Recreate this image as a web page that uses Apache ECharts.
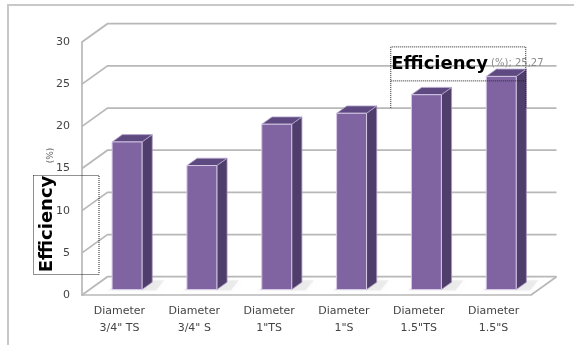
<!DOCTYPE html>
<html>
<head>
<meta charset="utf-8">
<script src="https://cdn.jsdelivr.net/npm/echarts@6/dist/echarts.min.js"></script>
<style>
  html, body { margin: 0; padding: 0; background: #fff; }
  #chart { width: 574px; height: 345px; }
</style>
</head>
<body>
<div id="chart"></div>
<script>
// Efficiency of each pipe configuration
const categories = [
  'Diameter\n3/4" TS',
  'Diameter\n3/4" S',
  'Diameter\n1"TS',
  'Diameter\n1"S',
  'Diameter\n1.5"TS',
  'Diameter\n1.5"S'
];
const efficiency = [17.5, 14.7, 19.6, 20.9, 23.1, 25.27];
const yTicks = [0, 5, 10, 15, 20, 25, 30];
const seriesName = 'Efficiency';
const seriesUnit = '(%)';
const labelledIndex = efficiency.length - 1;

// Pseudo-3D geometry: depth vector of the plot box and bar placement in depth
const DEPTH = [25.5, -18.3];
const BAR_FRONT = 0.3;
const BAR_BACK = 0.7;
const BAR_WIDTH_RATIO = 0.4;
const FONT = '"DejaVu Sans", sans-serif';
const GRID_COLOR = '#b8b8b8';

const chart = echarts.init(document.getElementById('chart'), null, { renderer: 'canvas' });

// Back-wall gridlines with their slanted side-wall segments
function renderGrid(params, api) {
  const cs = params.coordSys;
  const v = api.value(1);
  const y = api.coord([0, v])[1];
  const x0 = cs.x, x1 = cs.x + cs.width;
  const children = [{
    type: 'polyline',
    shape: { points: [[x0, y], [x0 + DEPTH[0], y + DEPTH[1]], [x1 + DEPTH[0], y + DEPTH[1]]] },
    style: { stroke: GRID_COLOR, lineWidth: 1.7, fill: null }
  }];
  if (v === 0) {
    children.push({
      type: 'line',
      shape: { x1: x1, y1: y, x2: x1 + DEPTH[0], y2: y + DEPTH[1] },
      style: { stroke: GRID_COLOR, lineWidth: 1.7 }
    });
  }
  return { type: 'group', children: children };
}

function formatValue(v) {
  return String(v).replace('.', ',');
}

// Columns drawn as front face, side face and top face
function renderBar(params, api) {
  const i = api.value(0);
  const v = api.value(1);
  const base = api.coord([i, 0]);
  const top = api.coord([i, v]);
  const band = api.size([1, 0])[0];
  const w = band * BAR_WIDTH_RATIO;
  const fx = DEPTH[0] * BAR_FRONT, fy = DEPTH[1] * BAR_FRONT;
  const sdx = DEPTH[0] * (BAR_BACK - BAR_FRONT), sdy = DEPTH[1] * (BAR_BACK - BAR_FRONT);
  const xl = base[0] - w / 2 + fx;
  const xr = base[0] + w / 2 + fx;
  const yb = base[1] + fy;
  const yt = top[1] + fy;

  const children = [
    {
      type: 'polygon',
      shape: { points: [[xl - 4, yb + 1], [xr + 14, yb + 1], [xr + sdx + 12, yb + sdy - 2], [xl + sdx, yb + sdy - 2]] },
      style: { fill: 'rgba(150,150,150,0.16)', shadowBlur: 8, shadowColor: 'rgba(150,150,150,0.35)' },
      silent: true
    },
    {
      type: 'polygon',
      shape: { points: [[xr, yb], [xr, yt], [xr + sdx, yt + sdy], [xr + sdx, yb + sdy]] },
      style: { fill: '#4f3d6c', stroke: '#a898c0', lineWidth: 0.8 }
    },
    {
      type: 'polygon',
      shape: { points: [[xl, yt], [xr, yt], [xr + sdx, yt + sdy], [xl + sdx, yt + sdy]] },
      style: { fill: '#5e4a80', stroke: '#b8a8d0', lineWidth: 0.8 }
    },
    {
      type: 'rect',
      shape: { x: xl, y: yt, width: w, height: yb - yt },
      style: { fill: '#8064a2', stroke: '#d4c8e4', lineWidth: 1 }
    }
  ];

  if (i === labelledIndex) {
    const lx = xl - 95.5;
    const ly = yt - 12.5;
    children.push({
      type: 'polyline',
      shape: { points: [[lx, yt + 31.5], [lx, yt - 29.5], [xl + 39.5, yt - 29.5], [xl + 39.5, yt + 31.5]] },
      style: { stroke: '#222', lineWidth: 1, lineDash: [1, 1], fill: null }
    });
    children.push({
      type: 'line',
      shape: { x1: lx, y1: yt + 4.5, x2: xl + 39.5, y2: yt + 4.5 },
      style: { stroke: '#222', lineWidth: 1, lineDash: [1, 1] }
    });
    children.push({
      type: 'text',
      x: lx + 0.5,
      y: ly,
      style: {
        text: '{b|' + seriesName + '}{s| ' + seriesUnit + '; ' + formatValue(v) + '}',
        align: 'left',
        verticalAlign: 'middle',
        rich: {
          b: { fontFamily: FONT, fontWeight: 'bold', fontSize: 18, fill: '#000' },
          s: { fontFamily: FONT, fontSize: 10, fill: '#8a8a8a' }
        }
      }
    });
  }
  return { type: 'group', children: children };
}

const option = {
  animation: false,
  backgroundColor: '#fff',
  grid: { left: 82, right: 43, top: 42, bottom: 50 },
  xAxis: {
    type: 'category',
    data: categories,
    axisLine: { show: true, lineStyle: { color: GRID_COLOR, width: 1.7 } },
    axisTick: { show: false },
    axisLabel: {
      margin: 8,
      color: '#444',
      fontFamily: FONT,
      fontSize: 11,
      lineHeight: 17,
      interval: 0
    },
    splitLine: { show: false }
  },
  yAxis: {
    type: 'value',
    min: 0,
    max: 30,
    interval: 5,
    axisLine: { show: true, lineStyle: { color: GRID_COLOR, width: 1.7 } },
    axisTick: { show: false },
    axisLabel: { margin: 12, color: '#444', fontFamily: FONT, fontSize: 11 },
    splitLine: { show: false }
  },
  graphic: [
    {
      type: 'polyline',
      shape: { points: [[8, 345], [8, 5], [574, 5]] },
      style: { stroke: '#c8c8c8', lineWidth: 2, fill: null },
      z: -1
    },
    {
      type: 'rect',
      shape: { x: 33.5, y: 175.5, width: 65.5, height: 99 },
      style: { stroke: '#222', lineWidth: 1, lineDash: [1, 1], fill: null },
      z: 10
    },
    {
      type: 'text',
      x: 47.5,
      y: 224,
      rotation: Math.PI / 2,
      style: {
        text: seriesName,
        font: 'bold 18px ' + FONT,
        fill: '#000',
        align: 'center',
        verticalAlign: 'middle'
      },
      z: 11
    },
    {
      type: 'text',
      x: 51,
      y: 155.5,
      rotation: Math.PI / 2,
      style: {
        text: seriesUnit,
        font: '9px ' + FONT,
        fill: '#666',
        align: 'center',
        verticalAlign: 'middle'
      },
      z: 11
    }
  ],
  series: [
    {
      type: 'custom',
      name: 'grid',
      clip: false,
      silent: true,
      z: 1,
      renderItem: renderGrid,
      data: yTicks.map(function (t) { return [0, t]; })
    },
    {
      type: 'custom',
      name: seriesName,
      clip: false,
      z: 2,
      renderItem: renderBar,
      data: efficiency.map(function (v, i) { return [i, v]; })
    }
  ]
};

chart.setOption(option);
</script>
</body>
</html>
